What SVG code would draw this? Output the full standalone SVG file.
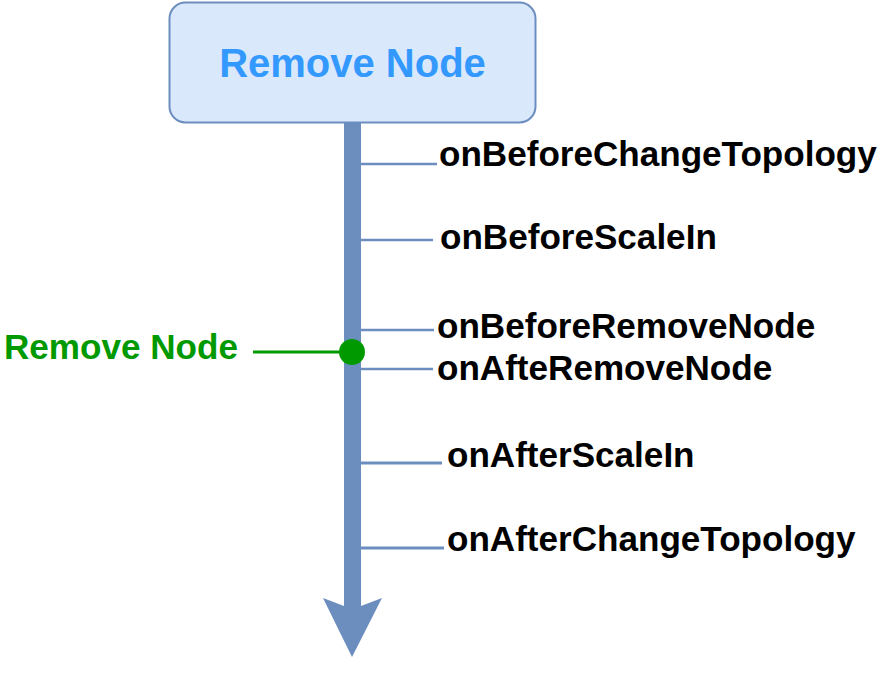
<svg xmlns="http://www.w3.org/2000/svg" width="879" height="678" viewBox="0 0 879 678">
<style>
.lbl{font-family:"Liberation Sans",Arial,sans-serif;font-weight:bold;font-size:35.1px;fill:#000}
.tick{stroke:#6c8ebf;fill:none}
</style>
<rect width="879" height="678" fill="#fff"/>
<g id="connectors">
<path d="M344 122 L361 122 L361 606 L382 598 L352 657 L323 598 L344 606 Z" fill="#6c8ebf"/>
<line class="tick" x1="361" y1="164" x2="437" y2="164" stroke-width="2.5"/>
<line class="tick" x1="361" y1="240" x2="433" y2="240" stroke-width="2.5"/>
<line class="tick" x1="361" y1="330" x2="434" y2="330" stroke-width="2.5"/>
<line class="tick" x1="361" y1="369" x2="433" y2="369" stroke-width="2.5"/>
<line class="tick" x1="361" y1="463" x2="442" y2="463" stroke-width="3"/>
<line class="tick" x1="361" y1="548" x2="444" y2="548" stroke-width="3"/>
<line x1="253" y1="352" x2="342" y2="352" stroke="#009900" stroke-width="3"/>
<circle cx="352" cy="352" r="13" fill="#009900"/>
</g>
<g id="node-remove">
<rect x="169.5" y="2.5" width="366" height="120" rx="16" fill="#dae8fc" stroke="#6c8ebf" stroke-width="2"/>
<text x="352.5" y="77" text-anchor="middle" font-family="Liberation Sans,Arial,sans-serif" font-weight="bold" font-size="40" fill="#3399ff">Remove Node</text>
</g>
<g id="label-green">
<text x="4" y="359" font-family="Liberation Sans,Arial,sans-serif" font-weight="bold" font-size="35.1" fill="#009900">Remove Node</text>
</g>
<g id="labels">
<text class="lbl" x="439" y="166">onBeforeChangeTopology</text>
<text class="lbl" x="440" y="249">onBeforeScaleIn</text>
<text class="lbl" x="437" y="338">onBeforeRemoveNode</text>
<text class="lbl" x="437" y="380">onAfteRemoveNode</text>
<text class="lbl" x="447" y="467">onAfterScaleIn</text>
<text class="lbl" x="447" y="551">onAfterChangeTopology</text>
</g>
</svg>
